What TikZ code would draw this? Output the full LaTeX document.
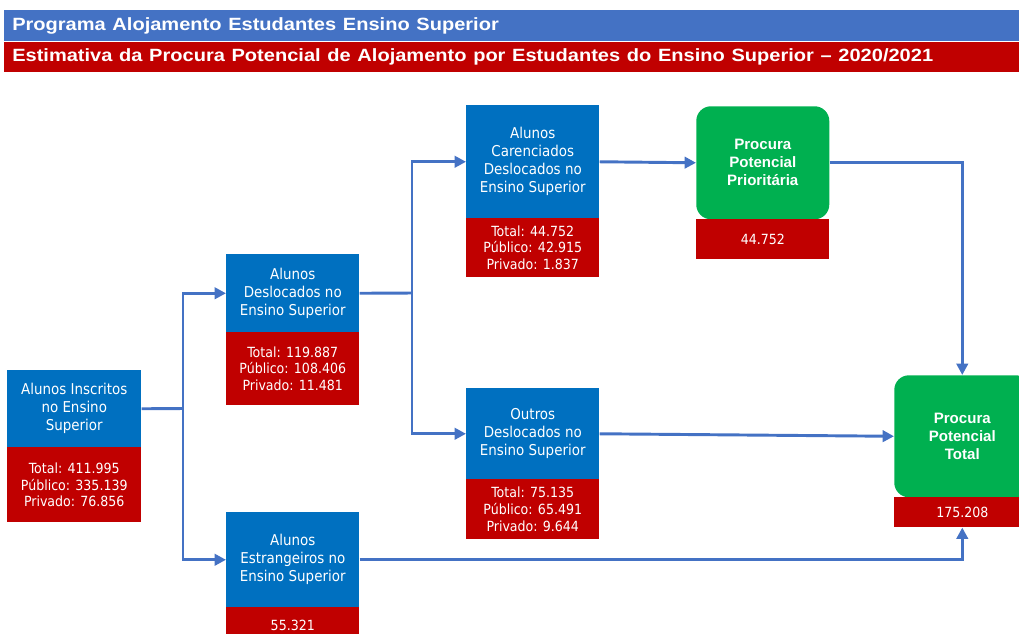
\documentclass[tikz,border=0pt]{standalone}
\usepackage{fontspec}
\setmainfont{Liberation Sans}
\newfontfamily\bodyf{DejaVu Sans Condensed}
\usetikzlibrary{arrows.meta}
\definecolor{cblue}{HTML}{0070C0}
\definecolor{cred}{HTML}{C00000}
\definecolor{cgreen}{HTML}{00B050}
\definecolor{cline}{HTML}{4472C4}
\tikzset{
  bbox/.style={fill=cblue, text=white, font=\bodyf\fontsize{11.2pt}{13.5pt}\selectfont, align=center, inner sep=0pt, anchor=north west},
  rbox/.style={fill=cred, text=white, font=\bodyf\fontsize{10.5pt}{12.5pt}\selectfont, align=center, inner sep=0pt, anchor=north west},
  gbox/.style={fill=cgreen, text=white, rounded corners=11pt, font=\bfseries\fontsize{11.3pt}{13.5pt}\selectfont, align=center, inner sep=0pt, anchor=north west},
  bar/.style={text=white, font=\bfseries\fontsize{13.3pt}{14pt}\selectfont, inner sep=0pt, anchor=north west, minimum height=30.5*0.75pt, text width=1016*0.75pt, align=left},
  conn/.style={draw=cline, line width=2.2pt},
  arr/.style={conn, -{Triangle[length=8.5pt,width=8.5pt]}}
}
\begin{document}
\begin{tikzpicture}[x=0.75pt,y=-0.75pt]
\useasboundingbox (0,0) rectangle (1019,633);
% title bars
\node[bar, fill=cline] (t1) at (4,10) {\hspace*{6pt}\scalebox{1.13}[1]{Programa Alojamento Estudantes Ensino Superior}};
\node[bar, fill=cred] (t2) at (4,41.5) {\hspace*{6pt}\scalebox{1.13}[1]{Estimativa da Procura Potencial de Alojamento por Estudantes do Ensino Superior -- 2020/2021}};
% boxes
\node[bbox, minimum width=134*0.75pt, minimum height=77*0.75pt] (ins) at (7,370) {Alunos Inscritos\\no Ensino\\Superior};
\node[rbox, minimum width=134*0.75pt, minimum height=75*0.75pt] (insv) at (7,447) {Total: 411.995\\Público: 335.139\\Privado: 76.856};
\node[bbox, minimum width=133*0.75pt, minimum height=78*0.75pt] (des) at (226,254) {Alunos\\Deslocados no\\Ensino Superior};
\node[rbox, minimum width=133*0.75pt, minimum height=73*0.75pt] (desv) at (226,332) {Total: 119.887\\Público: 108.406\\Privado: 11.481};
\node[bbox, minimum width=133*0.75pt, minimum height=113*0.75pt] (car) at (466,105) {Alunos\\Carenciados\\Deslocados no\\Ensino Superior};
\node[rbox, minimum width=133*0.75pt, minimum height=59*0.75pt] (carv) at (466,218) {Total: 44.752\\Público: 42.915\\Privado: 1.837};
\node[bbox, minimum width=133*0.75pt, minimum height=91*0.75pt] (out) at (466,388) {Outros\\Deslocados no\\Ensino Superior};
\node[rbox, minimum width=133*0.75pt, minimum height=60*0.75pt] (outv) at (466,479) {Total: 75.135\\Público: 65.491\\Privado: 9.644};
\node[bbox, minimum width=133*0.75pt, minimum height=95*0.75pt] (est) at (226,512) {Alunos\\Estrangeiros no\\Ensino Superior};
\node[rbox, minimum width=133*0.75pt, minimum height=36*0.75pt] (estv) at (226,607) {55.321};
\node[gbox, minimum width=133*0.75pt, minimum height=113*0.75pt] (pri) at (696,106) {Procura\\Potencial\\Prioritária};
\node[rbox, minimum width=133*0.75pt, minimum height=40*0.75pt] (priv) at (696,219) {44.752};
\node[gbox, minimum width=136*0.75pt, minimum height=122*0.75pt] (tot) at (894,375) {Procura\\Potencial\\Total};
\node[rbox, minimum width=136*0.75pt, minimum height=30*0.75pt] (totv) at (894,497) {175.208};
% connectors
\coordinate (j1) at (183,408.5);
\coordinate (j2) at (412,293);
\draw[conn] (ins.east) -- (j1);
\draw[arr] (j1) |- (des.west);
\draw[arr] (j1) |- (est.west);
\draw[conn] (des.east) -- (j2);
\draw[arr] (j2) |- (car.west);
\draw[arr] (j2) |- (out.west);
\draw[arr] (car.east) -- (pri.west);
\draw[arr] (pri.east) -| (tot.north);
\draw[arr] (out.east) -- (tot.west);
\draw[arr] (est.east) -| (totv.south);
\end{tikzpicture}
\end{document}
